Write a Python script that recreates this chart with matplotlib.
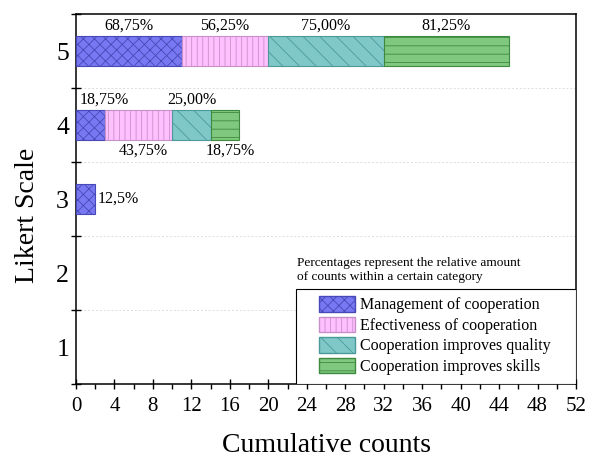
import matplotlib
matplotlib.use("Agg")
import matplotlib.pyplot as plt
import numpy as np
from matplotlib.patches import Patch, Rectangle

plt.rcParams['font.family'] = ['Liberation Serif', 'DejaVu Serif']
plt.rcParams['hatch.linewidth'] = 0.6

likert = [1, 2, 3, 4, 5]
series = ["Management of cooperation", "Efectiveness of cooperation",
          "Cooperation improves quality", "Cooperation improves skills"]
counts = {
    "Management of cooperation":   [0, 0, 2, 3, 11],
    "Efectiveness of cooperation": [0, 0, 0, 7, 9],
    "Cooperation improves quality": [0, 0, 0, 4, 12],
    "Cooperation improves skills":  [0, 0, 0, 3, 13],
}
pct_labels = {
    "Management of cooperation":   ["", "", "12,5%", "18,75%", "68,75%"],
    "Efectiveness of cooperation": ["", "", "", "43,75%", "56,25%"],
    "Cooperation improves quality": ["", "", "", "25,00%", "75,00%"],
    "Cooperation improves skills":  ["", "", "", "18,75%", "81,25%"],
}
xticks = list(range(0, 53, 4))

faces = ["#7878F2", "#FFC0FF", "#80C8C8", "#80C880"]
edges = ["#4848B8", "#C890C8", "#4A9A9A", "#3E8A3E"]
hatches = ["xxx", "|||", "\\\\", "--"]

fig = plt.figure(figsize=(5.95, 4.58), dpi=100)
ax = fig.add_axes([76/595, 1-384/458, 500/595, 370/458])

bh = 0.41
left = np.zeros(len(likert))
for i, s in enumerate(series):
    vals = np.array(counts[s], dtype=float)
    ys = [y for y, v in zip(likert, vals) if v > 0]
    ws = [v for v in vals if v > 0]
    ls = [l for l, v in zip(left, vals) if v > 0]
    ax.barh(ys, ws, left=ls, height=bh, color=faces[i],
            edgecolor=edges[i], hatch=hatches[i], linewidth=0.8, zorder=3)
    for j, y in enumerate(likert):
        lab = pct_labels[s][j]
        if not lab:
            continue
        cx = left[j] + vals[j] / 2
        if y == 5:
            ax.text(cx, y + bh/2 + 0.03, lab, ha='center', va='bottom', fontsize=11.5)
        elif y == 4:
            if i == 0:
                ax.text(0.35, y + bh/2 + 0.03, lab, ha='left', va='bottom', fontsize=11.5)
            elif i == 2:
                ax.text(cx, y + bh/2 + 0.03, lab, ha='center', va='bottom', fontsize=11.5)
            else:
                ax.text(cx + 0.5, y - bh/2 - 0.03, lab, ha='center', va='top', fontsize=11.5)
        elif y == 3:
            ax.text(left[j] + vals[j] + 0.2, y, lab, ha='left', va='center', fontsize=11.5)
    left += vals

ax.set_xlim(0, 52)
ax.set_ylim(0.5, 5.5)
ax.set_xticks(xticks)
ax.set_xticks(np.arange(2, 52, 4), minor=True)
ax.set_xticklabels([str(t) for t in xticks], fontsize=15)
ax.set_yticks(likert)
ax.set_yticklabels([str(v) for v in likert], fontsize=18.5)
ax.set_yticks(np.arange(0.5, 5.6, 1), minor=True)
ax.tick_params(axis='y', which='major', length=0, pad=5)
ax.tick_params(axis='y', which='minor', length=7, direction='inout', width=1)
ax.tick_params(axis='x', which='major', length=7, direction='inout', width=1, pad=6)
ax.tick_params(axis='x', which='minor', length=3.5, direction='out', width=1)
for y in np.arange(1.5, 5.0, 1):
    ax.axhline(y, color='#dddddd', lw=0.7, ls=(0, (2, 2)), zorder=1)
for sp in ax.spines.values():
    sp.set_linewidth(1.1)

ax.set_xlabel("Cumulative counts", fontsize=20)
ax.xaxis.set_label_coords(0.5, -(445 - 384) / 370 - 0.0, transform=ax.transAxes)
ax.xaxis.label.set_va('center')
ax.set_ylabel("Likert Scale", fontsize=20)
ax.yaxis.set_label_coords(-(76 - 28) / 500, (384 - 215) / 370, transform=ax.transAxes)
ax.yaxis.label.set_va('center')

# legend frame
ax.add_patch(Rectangle(((296-76)/500, 0), (576-296)/500, (384-289)/370,
                       transform=ax.transAxes, facecolor='white', edgecolor='black',
                       linewidth=0.8, zorder=4))
handles = [Patch(facecolor=faces[i], edgecolor=edges[i], hatch=hatches[i], label=series[i])
           for i in range(len(series))]
leg = ax.legend(handles=handles, loc='upper left',
                bbox_to_anchor=((319-76)/500, (384-296)/370),
                fontsize=11.5, frameon=False,
                handlelength=2.25, handleheight=1.15, handletextpad=0.3,
                labelspacing=0.2, borderpad=0.0, borderaxespad=0.0)
leg.set_zorder(5)

ax.text((297-76)/500, (384-257)/370,
        "Percentages represent the relative amount\nof counts within a certain category",
        transform=ax.transAxes, ha='left', va='top', fontsize=9.6, linespacing=1.25)

fig.savefig("out.png", dpi=100)
